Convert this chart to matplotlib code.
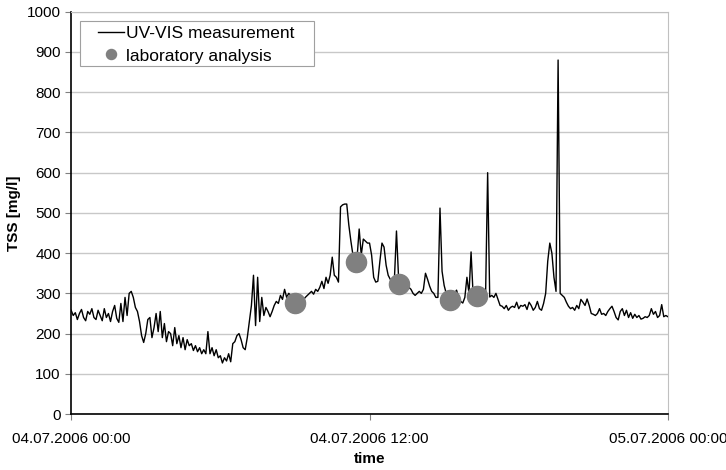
import pandas as pd
import numpy as np
import matplotlib
matplotlib.use("Agg")
import matplotlib.pyplot as plt
from matplotlib.patches import Rectangle

plt.rcParams["font.family"] = ["Liberation Sans", "DejaVu Sans"]

# UV-VIS TSS readings, one row per hour, 5-minute steps (mg/l)
uvvis_values = [
    258, 245, 252, 235, 250, 260, 240, 232, 255, 248, 262, 240,   # 00
    235, 258, 245, 232, 262, 240, 250, 230, 255, 270, 238, 228,   # 01
    275, 230, 290, 245, 300, 305, 290, 265, 255, 230, 195, 178,   # 02
    200, 235, 240, 190, 215, 250, 205, 255, 190, 225, 180, 205,   # 03
    200, 170, 215, 175, 195, 165, 190, 160, 185, 170, 175, 158,   # 04
    170, 155, 165, 150, 160, 150, 205, 150, 165, 145, 160, 140,   # 05
    145, 127, 140, 132, 150, 130, 175, 180, 195, 200, 185, 165,   # 06
    160, 190, 230, 270, 345, 220, 340, 230, 290, 245, 265, 255,   # 07
    242, 255, 270, 280, 275, 295, 285, 310, 290, 300, 295, 290,   # 08
    290, 288, 285, 280, 283, 290, 295, 300, 305, 298, 310, 305,   # 09
    315, 330, 312, 340, 325, 345, 390, 345, 340, 328, 515, 520,   # 10
    522, 522, 470, 430, 395, 385, 390, 460, 395, 435, 430, 425,   # 11
    425, 395, 340, 328, 330, 380, 425, 415, 370, 345, 335, 330,   # 12
    335, 455, 340, 330, 325, 320, 318, 315, 310, 300, 295, 300,   # 13
    305, 300, 310, 350, 335, 318, 305, 300, 290, 290, 512, 355,   # 14
    320, 300, 290, 285, 290, 300, 308, 290, 280, 276, 290, 340,   # 15
    300, 403, 295, 295, 295, 290, 295, 290, 295, 600, 291, 295,   # 16
    290, 300, 285, 270, 268, 262, 270, 258, 265, 268, 265, 278,   # 17
    262, 270, 268, 272, 260, 278, 270, 258, 265, 280, 262, 258,   # 18
    275, 300, 380, 425, 400, 340, 305, 880, 300, 295, 290, 278,   # 19
    268, 262, 265, 258, 270, 262, 285, 278, 270, 286, 270, 250,   # 20
    248, 245, 250, 262, 248, 250, 245, 255, 262, 268, 255, 240,   # 21
    234, 255, 262, 245, 258, 240, 252, 238, 248, 240, 245, 236,   # 22
    238, 242, 240, 245, 262, 248, 255, 240, 245, 272, 242, 245,   # 23
    242,
]
uvvis_times = pd.date_range("2006-07-04 00:00", periods=len(uvvis_values), freq="5min")

lab_times = pd.to_datetime(["2006-07-04 09:00", "2006-07-04 11:28", "2006-07-04 13:11",
                            "2006-07-04 15:14", "2006-07-04 16:19"])
lab_values = [276, 378, 323, 284, 293]

x_ticks = pd.to_datetime(["2006-07-04 00:00", "2006-07-04 12:00", "2006-07-05 00:00"])
x_tick_labels = ["04.07.2006 00:00", "04.07.2006 12:00", "05.07.2006 00:00"]

fig = plt.figure(figsize=(7.26, 4.70), dpi=100)
ax = fig.add_axes([0.098, 0.119, 0.822, 0.856])

ax.plot(uvvis_times, uvvis_values, color="black", linewidth=1.0, label="UV-VIS measurement", zorder=3)
ax.plot(lab_times, lab_values, linestyle="none", marker="o", markersize=14.5,
        color="#808080", label="laboratory analysis", zorder=4)

ax.set_xlim(x_ticks[0], x_ticks[-1])
ax.set_ylim(0, 1000)
ax.set_yticks(np.arange(0, 1001, 100))
ax.set_xticks(x_ticks)
ax.set_xticklabels(x_tick_labels)
ax.tick_params(axis="both", labelsize=11, direction="out", length=4, color="#808080")
ax.tick_params(axis="x", pad=9)

ax.grid(axis="y", color="#c8c8c8", linewidth=1)
ax.set_axisbelow(True)
for side in ["top", "right"]:
    ax.spines[side].set_color("#c0c0c0")
ax.spines["left"].set_color("black")
ax.spines["bottom"].set_color("black")
ax.spines["left"].set_linewidth(1.2)
ax.spines["bottom"].set_linewidth(1.2)

ax.set_ylabel("TSS [mg/l]", fontsize=11, fontweight="bold", labelpad=4)
ax.set_xlabel("time", fontsize=11, fontweight="bold", labelpad=4)

# legend box drawn separately so it can be wider than the entries
ax.add_patch(Rectangle((0.015, 0.866), 0.392, 0.112, transform=ax.transAxes,
                       facecolor="white", edgecolor="#a0a0a0", linewidth=0.8, zorder=5))
leg = ax.legend(loc="upper left", bbox_to_anchor=(0.045, 0.966), borderaxespad=0, fontsize=12.5,
                frameon=False, borderpad=0, handlelength=1.5, handletextpad=0.1,
                labelspacing=0.45, markerscale=0.5)
leg.set_zorder(6)

fig.savefig("out.png", dpi=100)
